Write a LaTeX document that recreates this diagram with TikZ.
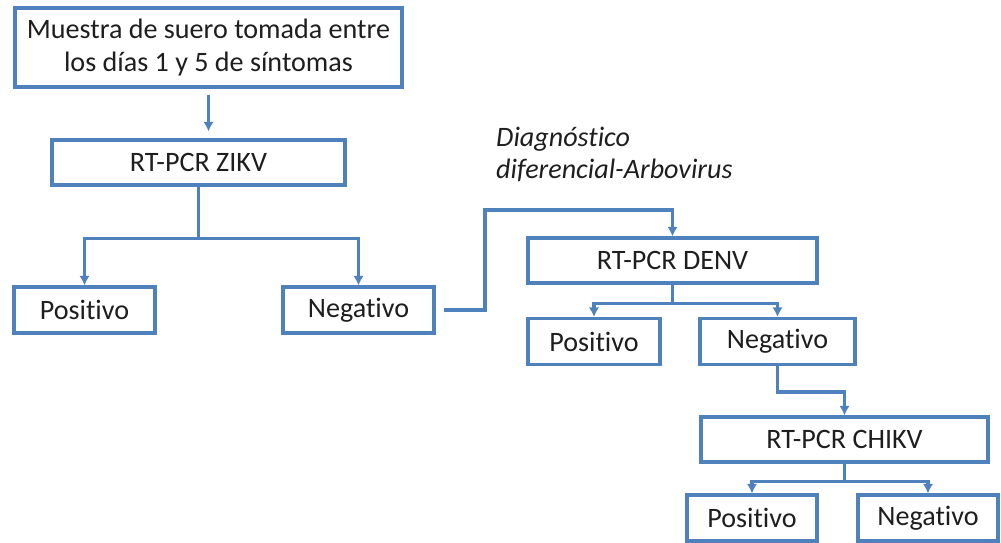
\documentclass[tikz,border=0pt]{standalone}
\usepackage{fontspec}
\setmainfont{Carlito}[Ligatures={NoCommon}]
\usetikzlibrary{arrows.meta}
\definecolor{azul}{RGB}{79,129,189}
\definecolor{texto}{RGB}{30,30,30}

\begin{document}
\begin{tikzpicture}[x=0.02cm,y=-0.02cm,>={Latex[length=5.5pt,width=6pt]}]
    \tikzstyle{box}=[rectangle,draw=azul,line width=1.8pt,fill=white,inner sep=0pt,minimum height=0.92cm,text=texto,font=\fontsize{16}{18.5}\selectfont]
    \tikzstyle{flecha}=[draw=azul,line width=1.8pt,->]
    \useasboundingbox (0,0) rectangle (1001,543);

    \node[box,minimum width=7.74cm,minimum height=1.58cm,align=center] (muestra) at (208.5,47.5) {Muestra de suero tomada entre\\los días 1 y 5 de síntomas};
    \foreach \name/\x/\y/\w/\txt in {zikv/198.5/162.5/5.86/RT-PCR ZIKV, denv/672.5/260.5/5.78/RT-PCR DENV, chikv/844.5/439.5/5.74/RT-PCR CHIKV}
            \node[box,minimum width=\w cm,minimum height=0.9cm] (\name) at (\x,\y) {\txt};
    \foreach \name/\x/\y/\w/\txt in {pos1/84.5/310/2.82/Positivo, neg1/358.5/310/3.02/Negativo, pos2/594/341.5/2.64/Positivo, neg2/777.5/341.5/3.1/Negativo, pos3/752/518/2.6/Positivo, neg3/928/518/2.8/Negativo}
            \node[box,minimum width=\w cm] (\name) at (\x,\y) {\txt};

    \node[anchor=west,align=left,text=texto,font=\fontsize{16}{18.5}\selectfont\itshape] (dx) at (490,154.5) {Diagnóstico\\diferencial-Arbovirus};

        \draw[flecha,shorten <=0.12cm,shorten >=0.14cm] (muestra.south) -- (muestra.south |- zikv.north);

        \foreach \from/\to/\d in {zikv/pos1/52, zikv/neg1/52, denv/pos2/19, denv/neg2/19, neg2/chikv/26, chikv/pos3/18, chikv/neg3/18}
            \draw[flecha] (\from.south) -- ++(0,\d) -| (\to.north);

        \coordinate (codo) at (485,210);
        \draw[flecha,shorten <=0.16cm] (neg1.east) -| (codo) -| (denv.north);
\end{tikzpicture}
\end{document}
